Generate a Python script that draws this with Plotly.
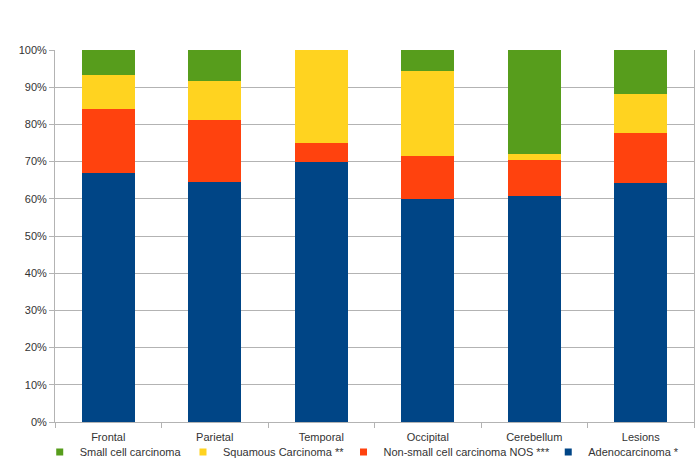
import plotly.graph_objects as go

categories = ["Frontal", "Parietal", "Temporal", "Occipital", "Cerebellum", "Lesions"]

adenocarcinoma = [67.0, 64.6, 70.0, 60.0, 60.7, 64.2]
non_small_nos = [17.1, 16.6, 5.0, 11.4, 9.8, 13.5]
squamous = [9.1, 10.5, 25.0, 22.9, 1.6, 10.6]
small_cell = [6.8, 8.3, 0.0, 5.7, 27.9, 11.7]

series_names = ["Adenocarcinoma *", "Non-small cell carcinoma NOS ***",
                "Squamous Carcinoma **", "Small cell carcinoma"]
series_values = [adenocarcinoma, non_small_nos, squamous, small_cell]
series_colors = ["#004586", "#ff420e", "#ffd320", "#579d1c"]
legend_ids = ["legend4", "legend3", "legend2", "legend"]
legend_x = [0.7719, 0.4515, 0.2003, -0.0239]

y_ticks = list(range(0, 101, 10))
y_tick_labels = [f"{v}%" for v in y_ticks]

fig = go.Figure()
for name, vals, col, lid in zip(series_names, series_values, series_colors, legend_ids):
    fig.add_trace(go.Bar(x=categories, y=vals, name=name, legendgroup=name,
                         showlegend=False,
                         marker=dict(color=col, line=dict(width=0))))
    fig.add_trace(go.Scatter(x=[None], y=[None], mode="markers", name=name,
                             legendgroup=name, legend=lid, showlegend=True,
                             marker=dict(symbol="square", size=7, color=col)))

grid = "#b3b3b3"
legend_font = dict(family="Liberation Sans, Arial, sans-serif", size=11, color="#333333")
legends = {}
for lid, lx in zip(legend_ids, legend_x):
    legends[lid] = dict(orientation="h", x=lx, xanchor="left", y=-0.0806, yanchor="middle",
                        font=legend_font, bgcolor="rgba(0,0,0,0)", borderwidth=0)

fig.update_layout(
    barmode="stack",
    bargap=0.5,
    width=700, height=474,
    margin=dict(l=55, r=6, t=50, b=52, autoexpand=False),
    paper_bgcolor="white", plot_bgcolor="white",
    font=dict(family="Liberation Sans, Arial, sans-serif", size=11, color="#333333"),
    showlegend=True,
    xaxis=dict(showgrid=False, showline=True, linecolor=grid, linewidth=1,
               ticks="outside", tickson="boundaries", ticklen=5, tickcolor=grid,
               ticklabelstandoff=5, fixedrange=True),
    yaxis=dict(range=[0, 100], tickvals=y_ticks, ticktext=y_tick_labels,
               showgrid=True, gridcolor=grid, gridwidth=1,
               showline=True, linecolor=grid, linewidth=1, mirror=True,
               ticks="outside", ticklen=5, tickcolor=grid, zeroline=False),
    **legends,
)

fig.write_html(
    "out.html",
    config={"displayModeBar": False},
    post_script="document.body.style.margin='0';document.body.style.overflow='hidden';",
)
